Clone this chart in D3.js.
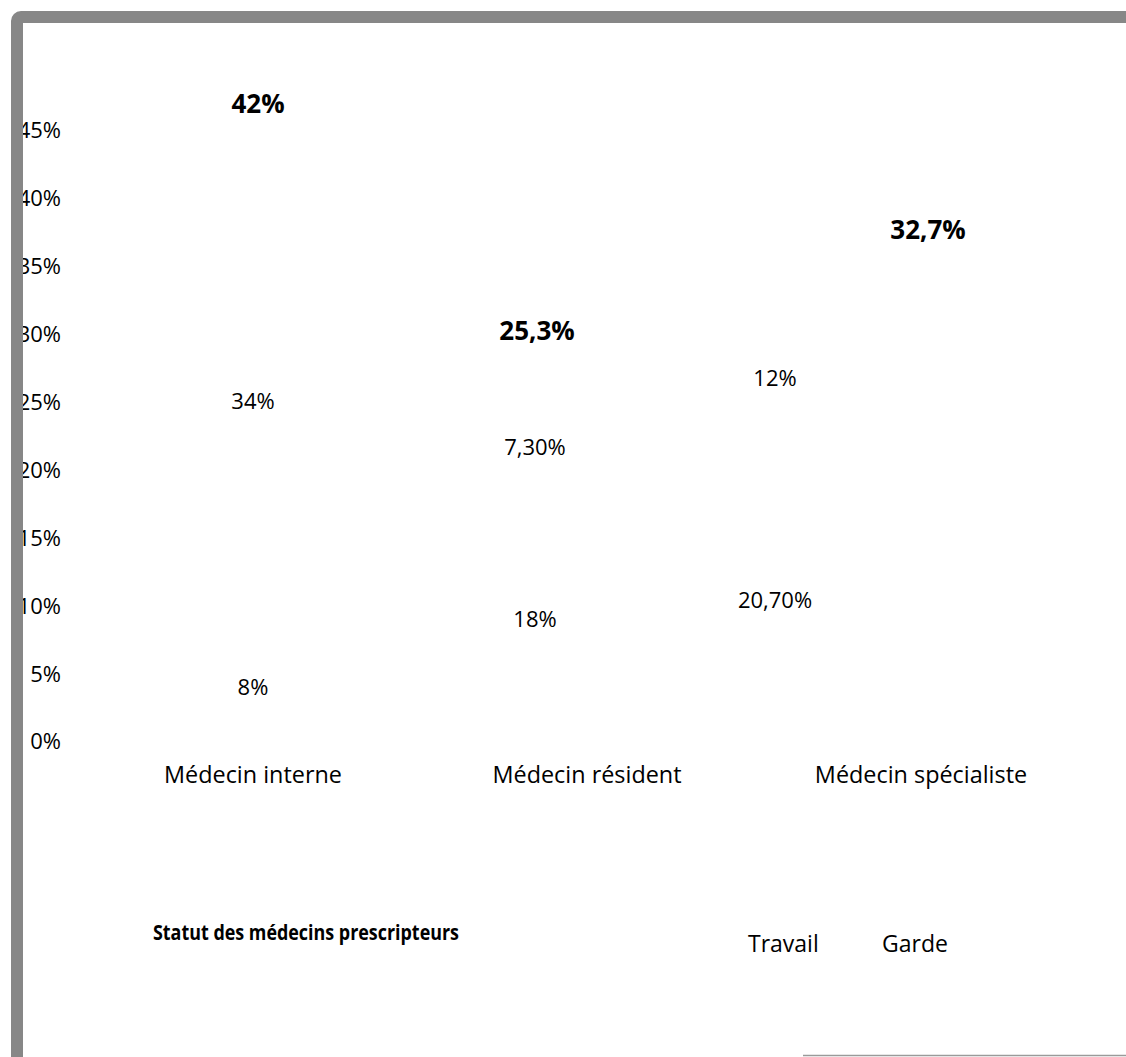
<!DOCTYPE html>
<html lang="fr">
<head>
<meta charset="utf-8">
<script src="https://cdn.jsdelivr.net/npm/d3@7"></script>
<style>
  html, body { margin: 0; padding: 0; background: #ffffff; }
  svg { display: block; font-family: "Open Sans", "Noto Sans", sans-serif; }
</style>
</head>
<body>
<svg id="chart" width="1126" height="1057"></svg>
<script>
// Prescriptions par statut du médecin, réparties entre travail et garde (%)
const categories = ["Médecin interne", "Médecin résident", "Médecin spécialiste"];
const travail = [8, 18, 20.7];
const garde = [34, 7.3, 12];
const totals = [42, 25.3, 32.7];
const travailLabels = ["8%", "18%", "20,70%"];
const gardeLabels = ["34%", "7,30%", "12%"];
const totalLabels = ["42%", "25,3%", "32,7%"];
const seriesNames = ["Travail", "Garde"];
const yTicks = [0, 5, 10, 15, 20, 25, 30, 35, 40, 45];

// Horizontal nudges of the value labels relative to each category centre
const segmentShift = [0, -52, -146];
const totalShift = [5, -50, 7];

const svg = d3.select("#chart");

const x = d3.scaleBand().domain(categories).range([86, 1088]).padding(0);
const y = d3.scaleLinear().domain([0, 45]).range([741, 130]);

// Stack the two series
const rows = categories.map((c, i) => ({ cat: c, Travail: travail[i], Garde: garde[i] }));
const stacked = d3.stack().keys(seriesNames)(rows);

// Bars (white fill on white ground)
const barW = 70;
svg.append("g").selectAll("g")
  .data(stacked).join("g")
  .attr("fill", "#ffffff")
  .selectAll("rect")
  .data(d => d).join("rect")
  .attr("x", (d, i) => x(categories[i]) + x.bandwidth() / 2 + segmentShift[i] - barW / 2)
  .attr("width", barW)
  .attr("y", d => y(d[1]))
  .attr("height", d => y(d[0]) - y(d[1]));

// Y axis: tick labels only
const yAxis = d3.axisLeft(y).tickValues(yTicks).tickFormat(d => d + "%").tickSize(0).tickPadding(0);
const gy = svg.append("g").attr("transform", "translate(61,0)").call(yAxis);
gy.select(".domain").remove();
gy.selectAll("text")
  .attr("font-size", 22)
  .attr("font-family", "Open Sans, sans-serif")
  .attr("fill", "#000")
  .attr("dy", "0.36em");

// X axis: category labels only
const xAxis = d3.axisBottom(x).tickSize(0).tickPadding(0);
const gx = svg.append("g").attr("transform", "translate(0,783)").call(xAxis);
gx.select(".domain").remove();
gx.selectAll("text")
  .attr("font-size", 23.4)
  .attr("font-family", "Open Sans, sans-serif")
  .attr("fill", "#000")
  .attr("y", 0)
  .attr("dy", 0);

// Segment value labels at each segment's midpoint
const labelSets = [travailLabels, gardeLabels];
stacked.forEach((layer, k) => {
  svg.append("g").selectAll("text")
    .data(layer).join("text")
    .attr("x", (d, i) => x(categories[i]) + x.bandwidth() / 2 + segmentShift[i])
    .attr("y", d => y((d[0] + d[1]) / 2))
    .attr("dy", "0.36em")
    .attr("text-anchor", "middle")
    .attr("font-size", 22)
    .attr("fill", "#000")
    .text((d, i) => labelSets[k][i]);
});

// Totals above each stack
svg.append("g").selectAll("text")
  .data(totals).join("text")
  .attr("x", (d, i) => x(categories[i]) + x.bandwidth() / 2 + totalShift[i])
  .attr("y", d => y(d) - 67)
  .attr("dy", "0.36em")
  .attr("text-anchor", "middle")
  .attr("font-size", 26)
  .attr("font-weight", "bold")
  .attr("fill", "#000")
  .text((d, i) => totalLabels[i]);

// Axis title (condensed to fit its slot)
svg.append("text")
  .attr("x", 153)
  .attr("y", 940)
  .attr("font-size", 21)
  .attr("font-weight", "bold")
  .attr("fill", "#000")
  .attr("textLength", 306)
  .attr("lengthAdjust", "spacingAndGlyphs")
  .text("Statut des médecins prescripteurs");

// Legend (names only)
const legendX = [748, 882];
svg.append("g").selectAll("text")
  .data(seriesNames).join("text")
  .attr("x", (d, i) => legendX[i])
  .attr("y", 952)
  .attr("font-size", 23)
  .attr("fill", "#000")
  .text(d => d);

// Frame
svg.append("rect")
  .attr("x", 17).attr("y", 17)
  .attr("width", 1200).attr("height", 1100)
  .attr("rx", 4)
  .attr("fill", "none")
  .attr("stroke", "#878787")
  .attr("stroke-width", 12);

svg.append("line")
  .attr("x1", 803).attr("x2", 1126)
  .attr("y1", 1055.5).attr("y2", 1055.5)
  .attr("stroke", "#9a9a9a")
  .attr("stroke-width", 1.5);
</script>
</body>
</html>
